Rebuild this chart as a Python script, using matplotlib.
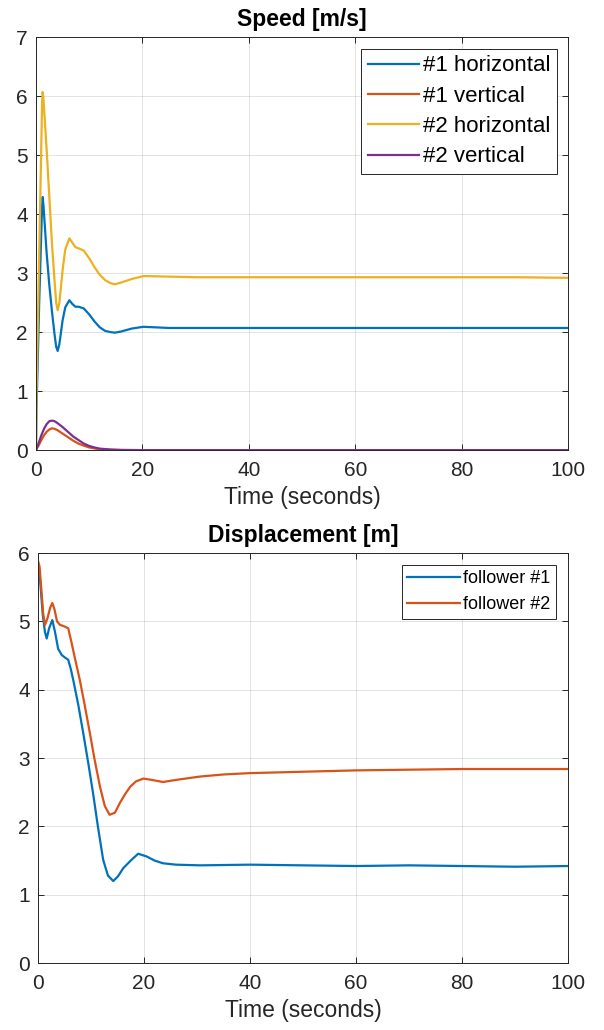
import matplotlib
matplotlib.use("Agg")
import matplotlib.pyplot as plt

plt.rcParams['font.family'] = ['Liberation Sans', 'DejaVu Sans']

# MATLAB default colour order
c_blue = '#0072BD'
c_orange = '#D95319'
c_yellow = '#EDB120'
c_purple = '#7E2F8E'
dark = '#262626'

# ---- speed data (top panel) ----
t_h1 = [0, 0.1, 0.6, 1.15, 1.26, 1.4, 2.0, 2.5, 3.0, 3.5, 3.8, 4.07, 4.4, 5.0, 5.5, 6.27, 6.8, 7.4, 8.0,
        9.0, 10.0, 11.0, 12.0, 13.0, 14.0, 14.85, 16, 18, 20.2, 25, 30, 40, 50, 60, 70, 80, 90, 100]
v_h1 = [0, 0.7, 2.5, 4.15, 4.29, 4.15, 3.34, 2.8, 2.35, 1.95, 1.75, 1.68, 1.8, 2.2, 2.42, 2.54, 2.48, 2.43, 2.43,
        2.4, 2.3, 2.18, 2.08, 2.02, 2.0, 1.99, 2.01, 2.06, 2.09, 2.07, 2.07, 2.07, 2.07, 2.07, 2.07, 2.07, 2.07, 2.07]

t_h2 = t_h1
v_h2 = [0, 1.0, 3.3, 5.9, 6.07, 5.95, 5.1, 4.3, 3.5, 2.85, 2.5, 2.37, 2.5, 3.05, 3.4, 3.59, 3.52, 3.44, 3.42,
        3.38, 3.25, 3.1, 2.97, 2.88, 2.83, 2.81, 2.84, 2.9, 2.95, 2.94, 2.93, 2.93, 2.93, 2.93, 2.93, 2.93, 2.93, 2.92]

t_v = [0, 0.5, 1, 1.5, 2, 2.5, 3, 3.5, 4, 5, 6, 7, 8, 9, 10, 11, 12, 14, 16, 20, 100]
v_v1 = [0, 0.08, 0.17, 0.25, 0.31, 0.35, 0.37, 0.36, 0.34, 0.28, 0.22, 0.16, 0.11, 0.075, 0.045, 0.028, 0.015,
        0.005, 0.001, 0, 0]
v_v2 = [0, 0.12, 0.25, 0.36, 0.44, 0.49, 0.5, 0.49, 0.46, 0.39, 0.31, 0.23, 0.17, 0.11, 0.07, 0.045, 0.025,
        0.01, 0.003, 0, 0]

# ---- displacement data (bottom panel) ----
t_f1 = [0, 0.4, 0.9, 1.3, 1.64, 2.1, 2.7, 3.2, 3.8, 4.47, 5.1, 5.7, 6.2, 6.66, 7.6, 8.55, 9.5, 10.4, 11.3,
        12.3, 13.2, 14.2, 15.1, 16.1, 17.5, 18.9, 20.5, 22, 23.6, 26, 30.6, 40, 50, 60, 70, 80, 90, 100]
d_f1 = [5.82, 5.6, 5.1, 4.85, 4.75, 4.9, 5.02, 4.85, 4.6, 4.51, 4.47, 4.44, 4.3, 4.14, 3.78, 3.36, 2.92, 2.48, 2.0,
        1.51, 1.28, 1.2, 1.27, 1.39, 1.5, 1.6, 1.56, 1.5, 1.46, 1.44, 1.43, 1.44, 1.43, 1.42, 1.43, 1.42, 1.41, 1.42]

t_f2 = [0, 0.3, 0.7, 1.0, 1.32, 1.8, 2.3, 2.7, 3.1, 3.6, 4.15, 4.9, 5.7, 6.3, 7.0, 7.9, 8.8, 9.8, 10.7, 11.7,
        12.6, 13.5, 14.5, 15.5, 16.5, 17.4, 18.5, 19.9, 21.5, 23.6, 26, 30.6, 35, 40, 50, 60, 70, 80, 90, 100]
d_f2 = [5.89, 5.8, 5.4, 5.1, 4.95, 5.05, 5.2, 5.27, 5.18, 5.0, 4.95, 4.93, 4.9, 4.7, 4.45, 4.14, 3.78, 3.36, 2.97,
        2.58, 2.3, 2.17, 2.2, 2.35, 2.48, 2.58, 2.66, 2.7, 2.68, 2.65, 2.68, 2.73, 2.76, 2.78, 2.8, 2.82, 2.83,
        2.84, 2.84, 2.84]


def style_axes(ax):
    ax.grid(True, color=dark, alpha=0.15, linewidth=0.6)
    ax.set_axisbelow(True)
    for sp in ax.spines.values():
        sp.set_color(dark)
        sp.set_linewidth(0.7)
    ax.tick_params(direction='in', top=True, right=True, labelsize=15, colors=dark, length=4, width=0.7)
    ax.tick_params(axis='x', pad=8)
    ax.tick_params(axis='y', pad=6)
    ax.set_xlim(0, 100)
    ax.set_xticks([0, 20, 40, 60, 80, 100])
    ax.set_xlabel('Time (seconds)', fontsize=16.5, color=dark, labelpad=4)


fig = plt.figure(figsize=(6.04, 10.30), dpi=100)

# Create the speed axes
ax1 = fig.add_axes([0.0596, 0.563, 0.8808, 0.401])
ax1.plot(t_h1, v_h1, color=c_blue, lw=1.6, label='#1 horizontal')
ax1.plot(t_v, v_v1, color=c_orange, lw=1.6, label='#1 vertical')
ax1.plot(t_h2, v_h2, color=c_yellow, lw=1.6, label='#2 horizontal')
ax1.plot(t_v, v_v2, color=c_purple, lw=1.6, label='#2 vertical')
style_axes(ax1)
ax1.set_ylim(0, 7)
ax1.set_yticks(range(0, 8))
ax1.set_title('Speed [m/s]', fontsize=16.5, fontweight='bold', color='black', pad=8)
leg1 = ax1.legend(loc='upper right', bbox_to_anchor=(0.979, 0.971), borderaxespad=0, fontsize=16,
                  handlelength=2.3, handletextpad=0.2, labelspacing=0.42, borderpad=0.28,
                  fancybox=False, framealpha=1)
leg1.get_frame().set_edgecolor(dark)
leg1.get_frame().set_linewidth(0.7)

# Create the displacement axes
ax2 = fig.add_axes([0.0629, 0.065, 0.8775, 0.398])
ax2.plot(t_f1, d_f1, color=c_blue, lw=1.6, label='follower #1')
ax2.plot(t_f2, d_f2, color=c_orange, lw=1.6, label='follower #2')
style_axes(ax2)
ax2.set_ylim(0, 6)
ax2.set_yticks(range(0, 7))
ax2.set_title('Displacement [m]', fontsize=16.5, fontweight='bold', color='black', pad=8)
leg2 = ax2.legend(loc='upper right', bbox_to_anchor=(0.977, 0.971), borderaxespad=0, fontsize=13,
                  handlelength=2.9, handletextpad=0.2, labelspacing=0.5, borderpad=0.3,
                  fancybox=False, framealpha=1)
leg2.get_frame().set_edgecolor(dark)
leg2.get_frame().set_linewidth(0.7)

plt.savefig('out.png', dpi=100)
